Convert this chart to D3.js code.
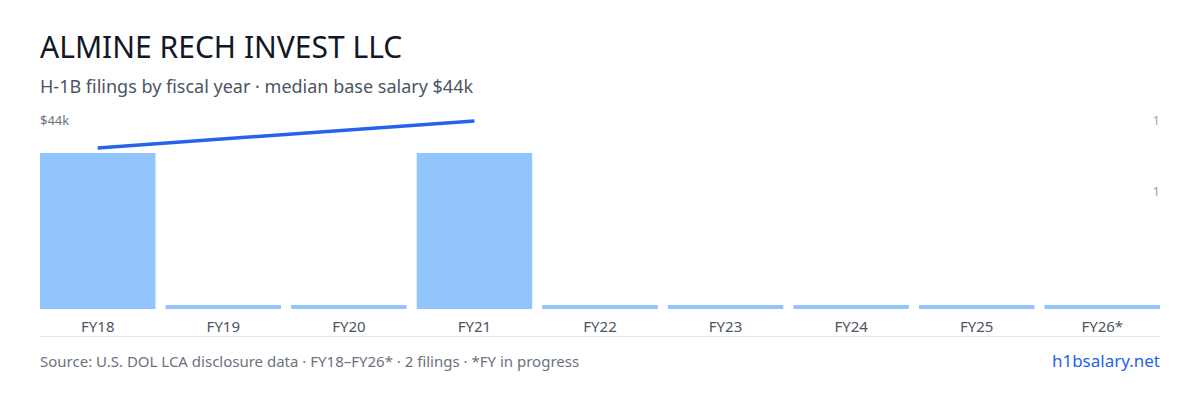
<!DOCTYPE html>
<html><head><meta charset="utf-8">
<script src="https://cdn.jsdelivr.net/npm/d3@7"></script>
<style>body{margin:0;background:#fff;font-family:"Noto Sans",sans-serif;}</style>
</head><body>
<script>
const years = ["FY18","FY19","FY20","FY21","FY22","FY23","FY24","FY25","FY26*"];
const filings = [1,0,0,1,0,0,0,0,0];
const salaries = [37700,null,null,44000,null,null,null,null,null];
const countTicks = [0.756,1.21];

const width = 1200, height = 400;
const plotLeft = 40, plotRight = 1160, base = 309, plotTop = 121;

const svg = d3.select("body").append("svg")
  .attr("width", width).attr("height", height);

// title and subtitle
svg.append("text").text("ALMINE RECH INVEST LLC")
  .attr("x", 40).attr("y", 58).attr("fill", "#111827")
  .style("font-size", "30px");
svg.append("text").text("H-1B filings by fiscal year · median base salary $44k")
  .attr("x", 40).attr("y", 93).attr("fill", "#4b5563")
  .style("font-size", "18px");

const x = d3.scaleBand().domain(years).range([plotLeft, plotRight]).paddingInner(0.08).paddingOuter(0);
const yCount = d3.scaleLinear().domain([0, 1]).range([base, 153]);
const ySal = d3.scaleLinear().domain([0, 44000]).range([base, plotTop]);

// bars (zero years get a thin stub)
svg.selectAll(".bar").data(filings).join("rect")
  .attr("x", (d, i) => x(years[i]))
  .attr("width", x.bandwidth())
  .attr("y", d => d > 0 ? yCount(d) : base - 4)
  .attr("height", d => d > 0 ? base - yCount(d) : 4)
  .attr("fill", "#93c5fd");

// salary line
const pts = salaries.map((s, i) => ({s, i})).filter(d => d.s != null);
svg.append("path")
  .attr("d", d3.line().x(d => x(years[d.i]) + x.bandwidth() / 2).y(d => ySal(d.s))(pts))
  .attr("fill", "none").attr("stroke", "#2563eb").attr("stroke-width", 3.5);

svg.append("text").text("$44k").attr("x", 40).attr("y", 125)
  .attr("fill", "#6b7280").style("font-size", "13px");

// right count ticks
svg.selectAll(".rt").data(countTicks).join("text")
  .text(d => d3.format(".0f")(d))
  .attr("x", plotRight).attr("y", d => yCount(d) + 5)
  .attr("text-anchor", "end").attr("fill", "#9ca3af").style("font-size", "13px");

// x labels
svg.selectAll(".xl").data(years).join("text")
  .text(d => d).attr("x", d => x(d) + x.bandwidth() / 2).attr("y", 332)
  .attr("text-anchor", "middle").attr("fill", "#4b5563").style("font-size", "15px");

svg.append("line").attr("x1", plotLeft).attr("x2", plotRight).attr("y1", 336.5).attr("y2", 336.5)
  .attr("stroke", "#e5e7eb");

// footer
svg.append("text").text("Source: U.S. DOL LCA disclosure data · FY18–FY26* · 2 filings · *FY in progress")
  .attr("x", 40).attr("y", 367).attr("fill", "#6b7280").style("font-size", "15px");
svg.append("text").text("h1bsalary.net").attr("x", plotRight).attr("y", 367)
  .attr("text-anchor", "end").attr("fill", "#2563eb").style("font-size", "17px");
</script>
</body></html>
